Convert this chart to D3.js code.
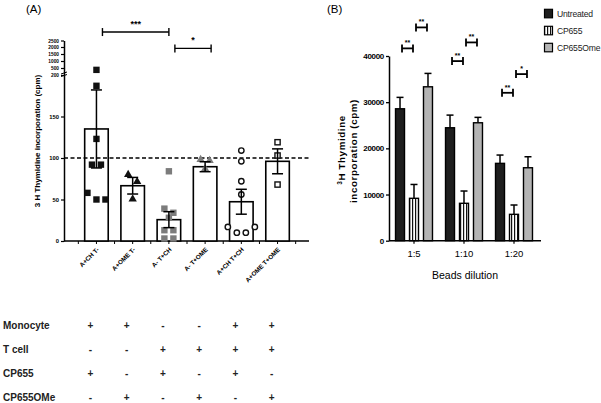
<!DOCTYPE html>
<html><head><meta charset="utf-8">
<script src="https://cdn.jsdelivr.net/npm/d3@7/dist/d3.min.js"></script>
<style>body{margin:0;background:#fff}svg{display:block;font-family:"Liberation Sans",Arial,sans-serif}</style>
</head><body><svg id="c" width="601" height="403"></svg>
<script>
// ---------- Panel A data ----------
const groupsA = ["A+CH T-","A+OME T-","A- T+CH","A- T+OME","A+CH T+CH","A+OME T+OME"];
const meansA = [135, 66.6, 25.7, 89.5, 47.3, 96];
const semA = [47, 10, 9.6, 6, 15, 15];
const pointsA1 = [420, 187, 123, 92, 92, 58, 50, 50];
const pointsA2 = [80, 71.5, 50.6];
const pointsA3 = [84, 39, 34, 28, 13, 13, 3, 3];
const pointsA4 = [98, 97, 87];
const pointsA5 = [109, 96, 72, 56, 17, 17, 10, 10];
const pointsA6 = [119, 103, 68];
const markerA = ["square","triangle","square","triangle","circle","osquare"];
const colorA = ["#111","#111","#7c7c7c","#7c7c7c","#111","#111"];
const ticksA = [0, 50, 100, 150, 200, 500, 1000, 1500, 2000, 2500];
const refLineA = 100;
const bracketsA = [{a:0,b:2,v:3150,label:"***"},{a:2,b:3,v:1900,label:"*"}];
const tableRows = ["Monocyte","T cell","CP655","CP655OMe"];
const tableSigns = [
  ["+","+","-","-","+","+"],
  ["-","-","+","+","+","+"],
  ["+","-","+","-","+","-"],
  ["-","+","-","+","-","+"]
];
// ---------- Panel B data ----------
const dilutions = ["1:5","1:10","1:20"];
const seriesB = ["Untreated","CP655","CP655Ome"];
const untreated = [28570, 24460, 16750];
const untreatedErr = [2470, 2740, 1800];
const cp655 = [9180, 8100, 5710];
const cp655Err = [3000, 2660, 2020];
const cp655Ome = [33330, 25540, 15800];
const cp655OmeErr = [2900, 1170, 2380];
const ticksB = [0, 10000, 20000, 30000, 40000];
const bracketsB = [
  {c:0,a:0,b:1,v:41650,label:"**"},{c:0,a:1,b:2,v:46190,label:"**"},
  {c:1,a:0,b:1,v:38900,label:"**"},{c:1,a:1,b:2,v:42940,label:"**"},
  {c:2,a:0,b:1,v:32030,label:"**"},{c:2,a:1,b:2,v:36080,label:"*"}
];

const svg = d3.select("#c");
const defs = svg.append("defs");
const pat = defs.append("pattern").attr("id","hatch").attr("patternUnits","userSpaceOnUse")
  .attr("width",3).attr("height",4);
pat.append("rect").attr("width",3).attr("height",4).attr("fill","#fff");
pat.append("rect").attr("x",1).attr("width",1.2).attr("height",4).attr("fill","#111");

// ===== Panel A =====
const yA = d3.scaleLinear().domain([0,200,500,1000,1500,2000,2500]).range([241,75,68,61,54,47,40.5]);
const xA = d3.scaleBand().domain(groupsA).range([72,302]).padding(0.35);
const cx = g => xA(g) + xA.bandwidth()/2;
const gA = svg.append("g");

svg.append("text").attr("x",26).attr("y",13).attr("font-size",11.5).text("(A)");

// y axis
const axA = gA.append("g").attr("transform","translate(64,0)")
  .call(d3.axisLeft(yA).tickValues(ticksA).tickSize(3).tickSizeOuter(0).tickFormat(d3.format("d")));
axA.select(".domain").attr("stroke-width",1.5);
axA.selectAll(".tick line").attr("stroke-width",1.2);
axA.selectAll(".tick text").attr("font-weight","bold").attr("font-family","Liberation Sans")
  .attr("font-size", d => d >= 200 ? 4.8 : 5.8).attr("dx",1);
// break mark
gA.append("path").attr("d",`M61,${yA(200)-1}l6,-2M61,${yA(200)+1.5}l6,-2`).attr("stroke","#000").attr("stroke-width",1);
gA.append("text").attr("transform","translate(40,141) rotate(-90)").attr("text-anchor","middle")
  .attr("font-size",8).attr("font-weight","bold").text("3 H Thymidine incorporation (cpm)");

// x axis
gA.append("line").attr("x1",64).attr("x2",309).attr("y1",yA(0)).attr("y2",yA(0)).attr("stroke","#000").attr("stroke-width",1.5);
const minorTicks = [];
groupsA.forEach((g,i)=>{minorTicks.push(cx(g)); minorTicks.push(cx(g)+xA.step()/2);});
minorTicks.unshift(cx(groupsA[0]) - xA.step()/2);
gA.selectAll(".mt").data(minorTicks).join("line").attr("x1",d=>d).attr("x2",d=>d)
  .attr("y1",yA(0)).attr("y2",yA(0)+3).attr("stroke","#000").attr("stroke-width",1);
gA.selectAll(".xl").data(groupsA).join("text")
  .attr("transform",g=>`translate(${cx(g)+3},${yA(0)+9}) rotate(-45)`)
  .attr("text-anchor","end").attr("font-size",6.3).attr("font-weight","bold").text(d=>d);

// bars
gA.selectAll(".barA").data(groupsA).join("rect")
  .attr("x",g=>xA(g)).attr("width",xA.bandwidth())
  .attr("y",(g,i)=>yA(meansA[i])).attr("height",(g,i)=>yA(0)-yA(meansA[i]))
  .attr("fill","#fff").attr("stroke","#000").attr("stroke-width",1.6);

// dashed line
gA.append("line").attr("x1",64).attr("x2",309).attr("y1",yA(refLineA)).attr("y2",yA(refLineA))
  .attr("stroke","#000").attr("stroke-width",1.4).attr("stroke-dasharray","4,2.5");

// points with row-dodge
const allPts = [pointsA1,pointsA2,pointsA3,pointsA4,pointsA5,pointsA6];
allPts.forEach((pts,gi)=>{
  const sorted = pts.slice().sort((a,b)=>b-a);
  const rows = [];
  sorted.forEach(v=>{
    const last = rows[rows.length-1];
    if (last && Math.abs(yA(v)-yA(last[0])) < 8) last.push(v); else rows.push([v]);
  });
  const placed = [];
  rows.forEach(r=>{
    const n = r.length, sp = 9;
    const slots = d3.range(n).map(i=>(i-(n-1)/2)*sp);
    const order = slots.slice().sort((a,b)=>Math.abs(b)-Math.abs(a) || a-b);
    r.forEach((v,i)=>placed.push({v, dx: order[i]}));
  });
  const g = gA.append("g");
  const c = cx(groupsA[gi]);
  placed.forEach(p=>{
    const x = c + p.dx, y = yA(p.v);
    const m = markerA[gi];
    if (m==="square") g.append("rect").attr("x",x-3.2).attr("y",y-3.2).attr("width",6.4).attr("height",6.4).attr("fill",colorA[gi]);
    else if (m==="osquare") g.append("rect").attr("x",x-2.6).attr("y",y-2.6).attr("width",5.2).attr("height",5.2).attr("fill","#fff").attr("stroke","#111").attr("stroke-width",1.4);
    else if (m==="triangle") g.append("path").attr("d",d3.symbol(d3.symbolTriangle,30)()).attr("transform",`translate(${x},${y})`).attr("fill",colorA[gi]);
    else g.append("circle").attr("cx",x).attr("cy",y).attr("r",2.7).attr("fill","#fff").attr("stroke","#111").attr("stroke-width",1.4);
  });
});

// error bars A
groupsA.forEach((g,i)=>{
  const c = cx(g), hi = yA(meansA[i]+semA[i]), lo = yA(meansA[i]-semA[i]);
  const e = gA.append("g").attr("stroke","#000").attr("stroke-width",1.5);
  e.append("line").attr("x1",c).attr("x2",c).attr("y1",hi).attr("y2",lo);
  e.append("line").attr("x1",c-5.5).attr("x2",c+5.5).attr("y1",hi).attr("y2",hi);
  e.append("line").attr("x1",c-5.5).attr("x2",c+5.5).attr("y1",lo).attr("y2",lo);
});

// brackets A
bracketsA.forEach(b=>{
  const x1 = cx(groupsA[b.a])+6, x2 = cx(groupsA[b.b])+ (b.a===2?6:0), y = yA(b.v);
  const e = gA.append("g").attr("stroke","#000").attr("stroke-width",1.4);
  e.append("line").attr("x1",x1).attr("x2",x2).attr("y1",y).attr("y2",y);
  e.append("line").attr("x1",x1).attr("x2",x1).attr("y1",y-4).attr("y2",y+4);
  e.append("line").attr("x1",x2).attr("x2",x2).attr("y1",y-4).attr("y2",y+4);
  gA.append("text").attr("x",(x1+x2)/2).attr("y",y-5).attr("text-anchor","middle")
    .attr("font-size",9).attr("font-weight","bold").attr("fill","#000").text(b.label);
});

// table
const rowY = d3.scalePoint().domain(tableRows).range([325,397]);
const colX = groupsA.map(g=>cx(g)-6);
tableRows.forEach((r,ri)=>{
  svg.append("text").attr("x",3).attr("y",rowY(r)+3.5).attr("font-size",10).attr("font-weight","bold").attr("fill","#222").text(r);
  tableSigns[ri].forEach((s,ci)=>{
    svg.append("text").attr("x",colX[ci]).attr("y",rowY(r)+3.5).attr("text-anchor","middle")
      .attr("font-size",10).attr("font-weight","bold").attr("fill","#222").text(s);
  });
});

// ===== Panel B =====
const yB = d3.scaleLinear().domain([0,40000]).range([240.7,56]);
const x0 = d3.scaleBand().domain(dilutions).range([393,543]);
const x1 = d3.scaleBand().domain(seriesB).range([0,42]).paddingInner(0.357).paddingOuter(0.18);
const valsB = [untreated, cp655, cp655Ome];
const errsB = [untreatedErr, cp655Err, cp655OmeErr];
const fillB = ["#1e1e1e","url(#hatch)","#b4b4b4"];
const gB = svg.append("g");
svg.append("text").attr("x",327).attr("y",13).attr("font-size",11.5).text("(B)");

const axB = gB.append("g").attr("transform","translate(389,0)")
  .call(d3.axisLeft(yB).tickValues(ticksB).tickSize(3).tickSizeOuter(0).tickFormat(d3.format("d")));
axB.select(".domain").attr("stroke-width",1.5);
axB.selectAll(".tick line").attr("stroke-width",1.3);
axB.selectAll(".tick text").attr("font-size",8).attr("font-weight","bold").attr("dx",1).attr("letter-spacing",-0.3);

gB.append("line").attr("x1",389).attr("x2",541).attr("y1",yB(0)).attr("y2",yB(0)).attr("stroke","#000").attr("stroke-width",1.5);
const gc = d => x0(d) + 21;
gB.selectAll(".xt").data(dilutions).join("line").attr("x1",gc).attr("x2",gc).attr("y1",yB(0)).attr("y2",yB(0)+3).attr("stroke","#000").attr("stroke-width",1.2);
gB.selectAll(".xtl").data(dilutions).join("text").attr("x",gc).attr("y",yB(0)+16).attr("text-anchor","middle")
  .attr("font-size",9.5).text(d=>d);
gB.append("text").attr("x",465).attr("y",279).attr("text-anchor","middle").attr("font-size",10.5).text("Beads dilution");

const yl = gB.append("text").attr("transform","translate(345,150) rotate(-90)").attr("text-anchor","middle")
  .attr("font-size",9.8).attr("font-weight","bold").attr("letter-spacing",0.6);
yl.append("tspan").attr("font-size",6.5).attr("baseline-shift","super").text("3");
yl.append("tspan").text("H Thymidine");
gB.append("text").attr("transform","translate(357,151) rotate(-90)").attr("text-anchor","middle")
  .attr("font-size",9.8).attr("font-weight","bold").attr("letter-spacing",0.6).text("incorporation (cpm)");

seriesB.forEach((s,si)=>{
  dilutions.forEach((d,di)=>{
    const v = valsB[si][di], e = errsB[si][di];
    const x = x0(d)+x1(s), w = x1.bandwidth(), c = x + w/2;
    gB.append("line").attr("x1",c).attr("x2",c).attr("y1",yB(v)).attr("y2",yB(v+e)).attr("stroke","#000").attr("stroke-width",1.5);
    gB.append("line").attr("x1",c-3.5).attr("x2",c+3.5).attr("y1",yB(v+e)).attr("y2",yB(v+e)).attr("stroke","#000").attr("stroke-width",1.5);
    gB.append("rect").attr("x",x).attr("width",w).attr("y",yB(v)).attr("height",yB(0)-yB(v))
      .attr("fill",fillB[si]).attr("stroke","#000").attr("stroke-width",1.4);
  });
});

bracketsB.forEach(b=>{
  const d = dilutions[b.c];
  const xa = x0(d)+x1(seriesB[b.a])+x1.bandwidth()/2+2, xb = x0(d)+x1(seriesB[b.b])+x1.bandwidth()/2-1;
  const y = yB(b.v);
  const e = gB.append("g").attr("stroke","#000").attr("stroke-width",1.8);
  e.append("line").attr("x1",xa).attr("x2",xb).attr("y1",y).attr("y2",y);
  e.append("line").attr("x1",xa).attr("x2",xa).attr("y1",y-4).attr("y2",y+4);
  e.append("line").attr("x1",xb).attr("x2",xb).attr("y1",y-4).attr("y2",y+4);
  gB.append("text").attr("x",(xa+xb)/2).attr("y",y-3).attr("text-anchor","middle")
    .attr("font-size",7).attr("font-weight","bold").text(b.label);
});

// legend
const lg = svg.append("g");
seriesB.forEach((s,i)=>{
  const y = 9.3 + i*17;
  lg.append("rect").attr("x",544.5).attr("y",y).attr("width",8).attr("height",8.5).attr("fill",fillB[i]).attr("stroke","#000").attr("stroke-width",1.2);
  lg.append("text").attr("x",557).attr("y",y+8).attr("font-size",8.6).attr("letter-spacing",-0.2).attr("fill","#222").text(s);
});
</script></body></html>
